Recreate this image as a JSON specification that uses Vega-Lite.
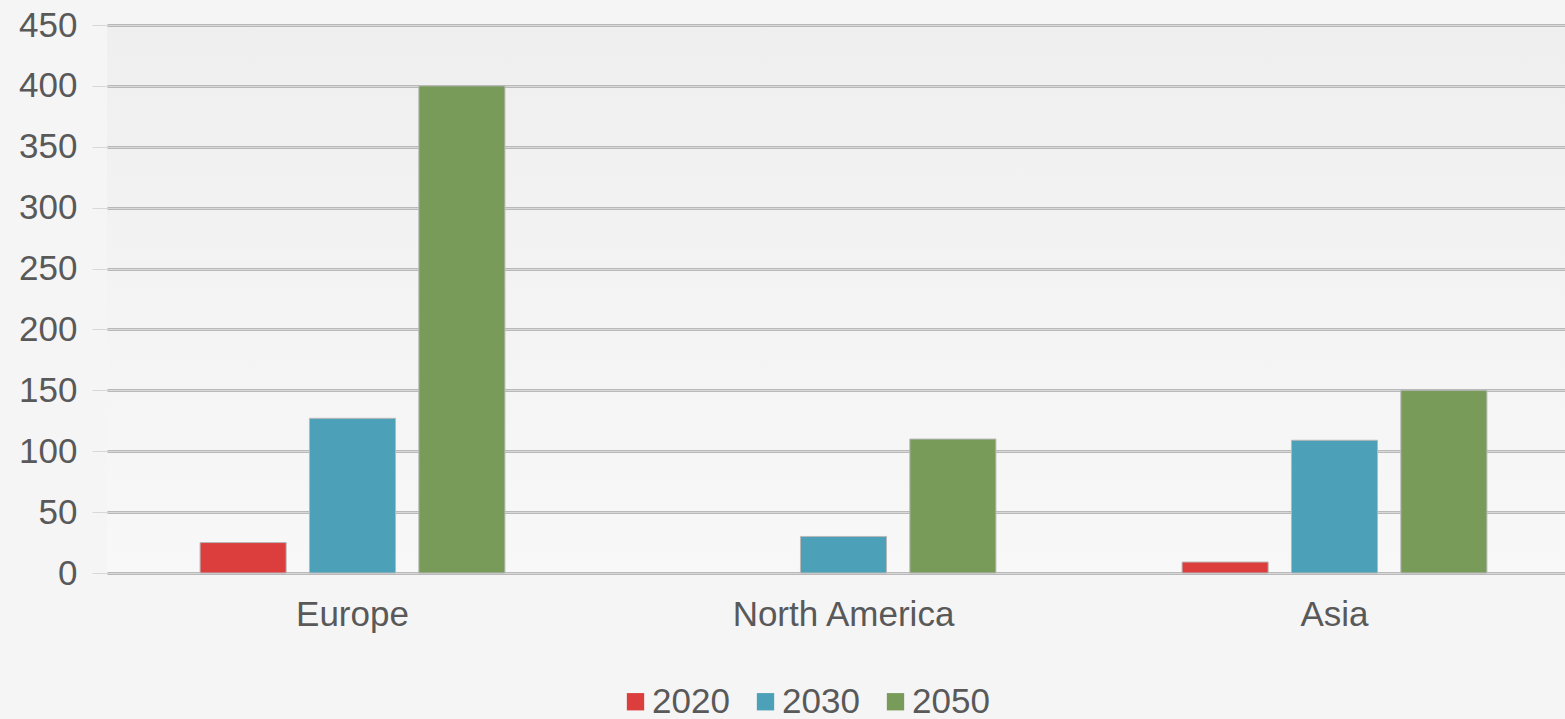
{
  "$schema": "https://vega.github.io/schema/vega-lite/v6.json",
  "autosize": {"type": "none"},
  "padding": {"left": 107, "top": 25, "right": 0, "bottom": 146},
  "width": 1458,
  "height": 548,
  "background": "#f5f5f5",
  "config": {
    "view": {"stroke": null, "fill": {"gradient": "linear", "x1": 0, "y1": 0, "x2": 0, "y2": 1, "stops": [{"offset": 0, "color": "#efefef"}, {"offset": 1, "color": "#f8f8f8"}]}},
    "font": "Liberation Sans"
  },
  "data": {
    "values": [
      {"region": "Europe", "year": "2020", "value": 25},
      {"region": "Europe", "year": "2030", "value": 127},
      {"region": "Europe", "year": "2050", "value": 400},
      {"region": "North America", "year": "2030", "value": 30},
      {"region": "North America", "year": "2050", "value": 110},
      {"region": "Asia", "year": "2020", "value": 9},
      {"region": "Asia", "year": "2030", "value": 109},
      {"region": "Asia", "year": "2050", "value": 150}
    ]
  },
  "encoding": {
    "x": {
      "field": "region", "type": "nominal", "sort": ["Europe", "North America", "Asia"],
      "scale": {"paddingInner": 0, "paddingOuter": 0, "range": [0, 1473]},
      "axis": {"title": null, "labelAngle": 0, "labelFontSize": 35, "labelColor": "#595959", "labelPadding": 24, "labelLimit": 0, "ticks": false, "domain": false, "grid": false}
    },
    "xOffset": {
      "field": "year", "type": "nominal",
      "scale": {"paddingInner": 0.213, "paddingOuter": 0.851}
    },
    "color": {
      "field": "year", "type": "nominal",
      "scale": {"domain": ["2020", "2030", "2050"], "range": ["#dc3d3d", "#4ca0b7", "#789b5a"]},
      "legend": {"title": null, "orient": "none", "legendX": 511, "legendY": 659, "direction": "horizontal", "symbolType": "square", "symbolSize": 300, "symbolStrokeWidth": 0, "labelFontSize": 35, "labelColor": "#595959", "labelOffset": -1, "columnPadding": 18}
    }
  },
  "layer": [
    {
      "mark": {"type": "bar", "opacity": 0},
      "encoding": {
        "y": {
          "field": "value", "type": "quantitative",
          "scale": {"domain": [0, 450], "nice": false},
          "axis": {"title": null, "values": [0, 50, 100, 150, 200, 250, 300, 350, 400, 450], "labelFontSize": 35, "labelColor": "#595959", "labelPadding": 30, "ticks": false, "domain": false, "grid": true, "gridColor": "#b9b9b9", "gridWidth": 3}
        }
      }
    },
    {
      "mark": {"type": "bar", "stroke": "#b8b8b8", "strokeWidth": 1},
      "encoding": {
        "y": {
          "field": "value", "type": "quantitative",
          "scale": {"domain": [0, 450], "nice": false},
          "axis": {"title": null, "orient": "right", "values": [0, 50, 100, 150, 200, 250, 300, 350, 400, 450], "labels": false, "ticks": false, "domain": false, "grid": true, "gridColor": "#d8d8d8", "gridWidth": 1}
        }
      }
    }
  ],
  "resolve": {"axis": {"y": "independent"}}
}
